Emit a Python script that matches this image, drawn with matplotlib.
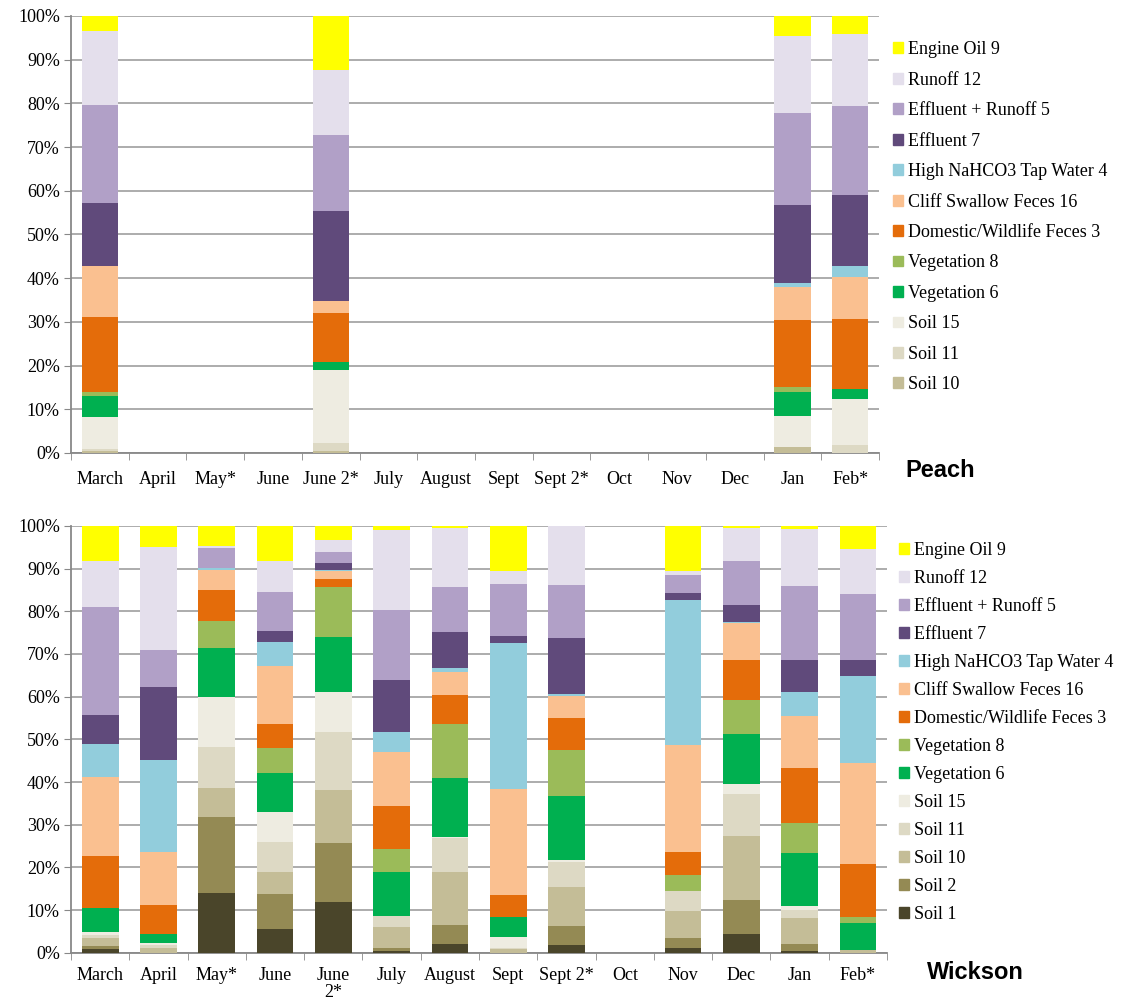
import matplotlib.pyplot as plt
import matplotlib.patches as patches
import numpy as np

# months on the x axis
months_peach = ["March", "April", "May*", "June", "June 2*", "July", "August",
                "Sept", "Sept 2*", "Oct", "Nov", "Dec", "Jan", "Feb*"]
months_wickson = ["March", "April", "May*", "June", "June\n2*", "July", "August",
                  "Sept", "Sept 2*", "Oct", "Nov", "Dec", "Jan", "Feb*"]

# sources, bottom of the stack first
sources = ["Soil 1", "Soil 2", "Soil 10", "Soil 11", "Soil 15", "Vegetation 6",
           "Vegetation 8", "Domestic/Wildlife Feces 3", "Cliff Swallow Feces 16",
           "High NaHCO3 Tap Water 4", "Effluent 7", "Effluent + Runoff 5",
           "Runoff 12", "Engine Oil 9"]
colors = ["#4A452A", "#948A54", "#C4BD97", "#DDD9C4", "#EEECE1", "#00B050",
          "#9BBB59", "#E46C0A", "#FAC090", "#92CDDC", "#604A7B", "#B1A0C7",
          "#E4DFEC", "#FFFF00"]

# Peach (% per month, only four sampled months)
peach_soil1 = [0, 0, 0, 0, 0, 0, 0, 0, 0, 0, 0, 0, 0, 0]
peach_soil2 = [0, 0, 0, 0, 0, 0, 0, 0, 0, 0, 0, 0, 0, 0]
peach_soil10 = [0.5, 0, 0, 0, 0.4, 0, 0, 0, 0, 0, 0, 0, 1.4, 0]
peach_soil11 = [0.5, 0, 0, 0, 1.9, 0, 0, 0, 0, 0, 0, 0, 0, 1.8]
peach_soil15 = [7.2, 0, 0, 0, 16.7, 0, 0, 0, 0, 0, 0, 0, 7.1, 10.5]
peach_veg6 = [4.9, 0, 0, 0, 1.7, 0, 0, 0, 0, 0, 0, 0, 5.4, 2.4]
peach_veg8 = [0.8, 0, 0, 0, 0.2, 0, 0, 0, 0, 0, 0, 0, 1.3, 0]
peach_domestic = [17.3, 0, 0, 0, 11.1, 0, 0, 0, 0, 0, 0, 0, 15.3, 15.9]
peach_cliff = [11.5, 0, 0, 0, 2.7, 0, 0, 0, 0, 0, 0, 0, 7.4, 9.7]
peach_tap = [0, 0, 0, 0, 0, 0, 0, 0, 0, 0, 0, 0, 1.1, 2.5]
peach_eff = [14.6, 0, 0, 0, 20.7, 0, 0, 0, 0, 0, 0, 0, 17.8, 16.2]
peach_effrun = [22.4, 0, 0, 0, 17.3, 0, 0, 0, 0, 0, 0, 0, 21.0, 20.5]
peach_runoff = [16.8, 0, 0, 0, 14.9, 0, 0, 0, 0, 0, 0, 0, 17.6, 16.4]
peach_oil = [3.5, 0, 0, 0, 12.4, 0, 0, 0, 0, 0, 0, 0, 4.6, 4.1]

# Wickson
wick_soil1 = [0.8, 0, 14.0, 5.6, 12.0, 0.5, 2.0, 0, 1.8, 0, 1.2, 4.5, 0.5, 0]
wick_soil2 = [0.8, 0, 17.8, 8.1, 13.7, 0.7, 4.5, 0, 4.4, 0, 2.2, 7.8, 1.5, 0]
wick_soil10 = [1.9, 1.0, 6.7, 5.3, 12.5, 4.9, 12.5, 0.9, 9.2, 0, 6.4, 15.0, 6.1, 0.6]
wick_soil11 = [0.7, 0.8, 9.7, 6.9, 13.6, 2.6, 7.8, 0.3, 5.9, 0, 4.7, 10.0, 1.8, 0]
wick_soil15 = [0.6, 0.5, 11.7, 7.0, 9.4, 0, 0.2, 2.5, 0.5, 0, 0, 2.2, 1.0, 0]
wick_veg6 = [5.7, 2.1, 11.4, 9.2, 12.8, 10.3, 13.9, 4.7, 15.0, 0, 0, 11.7, 12.5, 6.4]
wick_veg8 = [0, 0, 6.4, 5.8, 11.6, 5.3, 12.6, 0, 10.8, 0, 3.6, 8.1, 6.9, 1.4]
wick_domestic = [12.1, 6.8, 7.2, 5.6, 2.0, 10.0, 6.8, 5.1, 7.3, 0, 5.4, 9.4, 12.9, 12.5]
wick_cliff = [18.6, 12.5, 4.7, 13.8, 1.9, 12.8, 5.4, 24.8, 5.3, 0, 25.1, 8.6, 12.2, 23.6]
wick_tap = [7.8, 21.4, 0.6, 5.6, 0.1, 4.7, 1.1, 34.3, 0.5, 0, 34.0, 0.3, 5.8, 20.3]
wick_eff = [6.7, 17.2, 0, 2.5, 1.7, 12.0, 8.3, 1.6, 13.1, 0, 1.7, 3.9, 7.5, 3.9]
wick_effrun = [25.3, 8.7, 4.6, 9.2, 2.5, 16.6, 10.5, 12.3, 12.4, 0, 4.1, 10.3, 17.2, 15.3]
wick_runoff = [10.7, 24.1, 0.6, 7.1, 3.0, 18.7, 14.0, 3.0, 13.8, 0, 1.0, 7.8, 13.4, 10.5]
wick_oil = [8.3, 4.9, 4.6, 8.3, 3.2, 0.9, 0.4, 10.5, 0, 0, 10.6, 0.4, 0.7, 5.5]

peach = [peach_soil1, peach_soil2, peach_soil10, peach_soil11, peach_soil15,
         peach_veg6, peach_veg8, peach_domestic, peach_cliff, peach_tap,
         peach_eff, peach_effrun, peach_runoff, peach_oil]
wickson = [wick_soil1, wick_soil2, wick_soil10, wick_soil11, wick_soil15,
           wick_veg6, wick_veg8, wick_domestic, wick_cliff, wick_tap,
           wick_eff, wick_effrun, wick_runoff, wick_oil]

serif = "Liberation Serif"
grid_col = "#A6A6A6"
fs = 13

fig = plt.figure(figsize=(11.29, 10.07), dpi=100)
ax1 = fig.add_axes([0.0629, 0.5502, 0.7157, 0.4340])
ax2 = fig.add_axes([0.0629, 0.0539, 0.7228, 0.4238])


def draw(ax, data, labels, skip, legend_x, legend_y, spacing, pad):
    x = np.arange(len(labels))
    bottom = np.zeros(len(labels))
    handles = []
    for i, vals in enumerate(data):
        vals = np.array(vals, dtype=float)
        ax.bar(x, vals, bottom=bottom, width=0.63, color=colors[i],
               linewidth=0, zorder=3)
        bottom += vals
        if i >= skip:
            handles.append(patches.Patch(color=colors[i], label=sources[i]))
    ax.set_xlim(-0.5, len(labels) - 0.5)
    ax.set_ylim(0, 100)
    ax.set_yticks(np.arange(0, 101, 10))
    ax.set_yticklabels([f"{v}%" for v in range(0, 101, 10)],
                       family=serif, fontsize=fs)
    ax.set_xticks(x)
    ax.set_xticklabels(labels, family=serif, fontsize=fs, linespacing=1.0)
    ax.set_xticks(np.arange(-0.5, len(labels), 1), minor=True)
    ax.tick_params(axis="x", which="major", length=0, pad=pad)
    ax.tick_params(axis="x", which="minor", length=5, color="#888888")
    ax.tick_params(axis="y", length=5, color="#888888", pad=3)
    ax.yaxis.grid(True, color=grid_col, linewidth=1.3, zorder=0)
    ax.set_axisbelow(True)
    for s in ["top", "right"]:
        ax.spines[s].set_visible(False)
    for s in ["left", "bottom"]:
        ax.spines[s].set_color("#888888")
        ax.spines[s].set_linewidth(1.3)
    leg = fig.legend(handles=handles[::-1], loc="upper left",
                     bbox_to_anchor=(legend_x, legend_y), frameon=False,
                     prop={"family": serif, "size": fs},
                     handlelength=0.55, handleheight=0.55, handletextpad=0.3,
                     labelspacing=spacing, borderpad=0, borderaxespad=0)
    return leg


draw(ax1, peach, months_peach, 2, 0.791, 0.959, 0.745, 13)
draw(ax2, wickson, months_wickson, 0, 0.796, 0.462, 0.61, 10)

fig.text(0.833, 0.533, "Peach", family="Liberation Sans", fontweight="bold",
         fontsize=17, ha="center", va="center")
fig.text(0.864, 0.034, "Wickson", family="Liberation Sans", fontweight="bold",
         fontsize=17, ha="center", va="center")

plt.savefig("out.png", dpi=100)
